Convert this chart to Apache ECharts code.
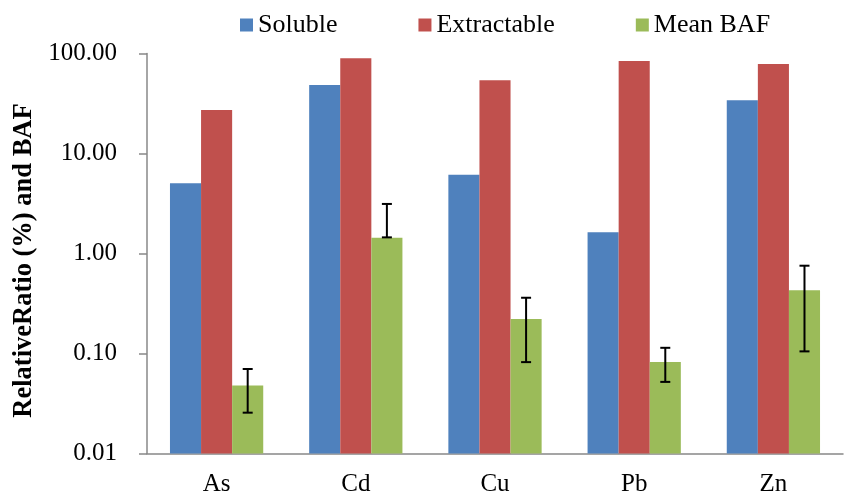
<!DOCTYPE html>
<html>
<head>
<meta charset="utf-8">
<script src="https://cdn.jsdelivr.net/npm/echarts@6/dist/echarts.min.js"></script>
<style>
html, body { margin: 0; padding: 0; background: #fff; }
#main { width: 845px; height: 497px; }
</style>
</head>
<body>
<div id="main"></div>
<script>
// 数据
var metals = ['As', 'Cd', 'Cu', 'Pb', 'Zn'];
var soluble = [5.04, 48.4, 6.14, 1.63, 34.0];
var extractable = [27.2, 89.5, 54.0, 84.0, 78.5];
var meanBaf = [0.048, 1.44, 0.221, 0.082, 0.43];
var bafLow = [0.0256, 1.45, 0.082, 0.052, 0.105];
var bafHigh = [0.070, 3.13, 0.361, 0.114, 0.755];
var yTicks = [0.01, 0.1, 1, 10, 100];

var fontFamily = '"Liberation Serif", "Times New Roman", serif';
var catGap = 0.33;
var yMin = yTicks[0];

function toPairs(arr) {
	return arr.map(function(v, i) {
		return [ i, v ];
	});
}

// 对数轴上的柱子从轴底部画起（bar系列在log轴上会从1开始）
function barRenderer(k) {
	return function(params, api) {
		var band = api.size([ 1, 0 ])[0];
		var w = band * (1 - catGap) / 3;
		var top = api.coord([ api.value(0), api.value(1) ]);
		var base = api.coord([ api.value(0), yMin ]);
		var x = top[0] - 1.5 * w + k * w;
		return {
			type : 'rect',
			shape : { x : x, y : top[1], width : w, height : base[1] - top[1] },
			style : api.style()
		};
	};
}

var errorData = metals.map(function(m, i) {
	return [ i, bafLow[i], bafHigh[i] ];
});

var chart = echarts.init(document.getElementById('main'));
chart.setOption({
	animation : false,
	color : [ '#4F81BD', '#C0504D', '#9BBB59' ],
	textStyle : {
		fontFamily : fontFamily,
		color : '#000'
	},
	legend : {
		data : [ 'Soluble', 'Extractable', 'Mean BAF' ],
		left : 235,
		top : 7,
		itemWidth : 13,
		itemHeight : 13,
		itemGap : 81,
		icon : 'rect',
		textStyle : {
			fontFamily : fontFamily,
			fontSize : 26,
			color : '#000'
		}
	},
	grid : { // 网格
		left : 147,
		right : 2,
		top : 53.5,
		bottom : 43.5
	},
	xAxis : {
		type : 'category',
		data : metals,
		axisLine : {
			lineStyle : {
				color : '#888888',
				width : 1.5
			}
		},
		axisTick : {
			length : 8,
			lineStyle : {
				color : '#888888',
				width : 1.5
			}
		},
		axisLabel : {
			fontFamily : fontFamily,
			fontSize : 25,
			color : '#000',
			margin : 18
		}
	},
	yAxis : {
		type : 'log',
		logBase : 10,
		min : yTicks[0],
		max : yTicks[yTicks.length - 1],
		name : 'RelativeRatio (%) and BAF',
		nameLocation : 'middle',
		nameGap : 104,
		nameTextStyle : {
			fontFamily : fontFamily,
			fontSize : 26.5,
			fontWeight : 'bold',
			color : '#000',
			padding : [ 0, 14, 0, 0 ]
		},
		splitLine : {
			show : false
		},
		axisLine : {
			show : true,
			lineStyle : {
				color : '#888888',
				width : 1.5
			}
		},
		axisTick : {
			show : true,
			length : 8,
			lineStyle : {
				color : '#888888',
				width : 1.5
			}
		},
		axisLabel : {
			fontFamily : fontFamily,
			fontSize : 25,
			color : '#000',
			margin : 30,
			formatter : function(v) {
				return v.toFixed(2);
			}
		}
	},
	series : [ {
		name : 'Soluble',
		type : 'custom',
		encode : { x : 0, y : 1 },
		renderItem : barRenderer(0),
		data : toPairs(soluble)
	}, {
		name : 'Extractable',
		type : 'custom',
		encode : { x : 0, y : 1 },
		renderItem : barRenderer(1),
		data : toPairs(extractable)
	}, {
		name : 'Mean BAF',
		type : 'custom',
		encode : { x : 0, y : 1 },
		renderItem : barRenderer(2),
		data : toPairs(meanBaf)
	}, {
		name : 'error',
		type : 'custom',
		z : 10,
		silent : true,
		encode : { x : 0, y : [ 1, 2 ] },
		data : errorData,
		renderItem : function(params, api) {
			var band = api.size([ 1, 0 ])[0];
			var offset = band * (1 - catGap) / 3;
			var lo = api.coord([ api.value(0), api.value(1) ]);
			var hi = api.coord([ api.value(0), api.value(2) ]);
			var x = lo[0] + offset;
			var half = 5;
			var style = {
				stroke : '#000',
				lineWidth : 2
			};
			return {
				type : 'group',
				children : [ {
					type : 'line',
					shape : { x1 : x, y1 : hi[1], x2 : x, y2 : lo[1] },
					style : style
				}, {
					type : 'line',
					shape : { x1 : x - half, y1 : hi[1], x2 : x + half, y2 : hi[1] },
					style : style
				}, {
					type : 'line',
					shape : { x1 : x - half, y1 : lo[1], x2 : x + half, y2 : lo[1] },
					style : style
				} ]
			};
		}
	} ]
});
</script>
</body>
</html>
